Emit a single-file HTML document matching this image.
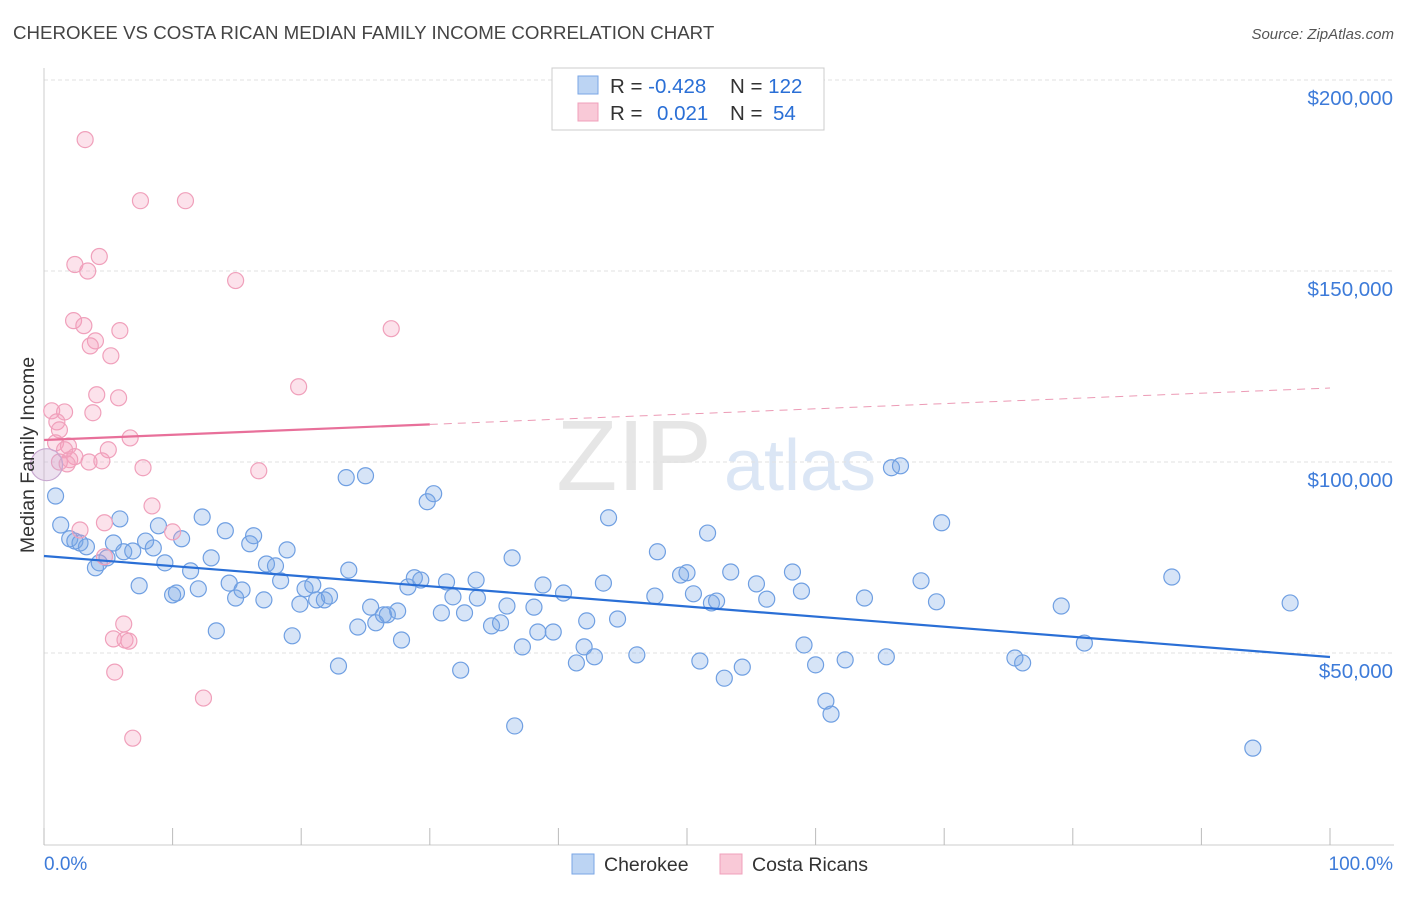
<!DOCTYPE html>
<html><head><meta charset="utf-8"><style>
body{margin:0;background:#fff;font-family:"Liberation Sans",sans-serif}
svg text{font-family:"Liberation Sans",sans-serif}
</style></head><body>
<svg id="c" width="1406" height="892">
<text x="13" y="39" font-size="18.7" fill="#444">CHEROKEE VS COSTA RICAN MEDIAN FAMILY INCOME CORRELATION CHART</text>
<text x="1394" y="39" font-size="15" fill="#555" font-style="italic" text-anchor="end">Source: ZipAtlas.com</text>
<text x="634" y="490" font-size="100" fill="#e6e6e6" font-family="Liberation Serif" text-anchor="middle">ZIP</text>
<text x="800" y="490" font-size="72" fill="#dbe6f5" text-anchor="middle">atlas</text>
<g id="grid"></g>
<g id="axes"></g>
<g id="pts"></g>
<g id="trend"></g>
<text transform="translate(34,455) rotate(-90)" font-size="19.5" fill="#333" text-anchor="middle">Median Family Income</text>
<text x="44" y="870" font-size="19" fill="#3d7bd9">0.0%</text>
<text x="1393" y="870" font-size="19" fill="#3d7bd9" text-anchor="end">100.0%</text>
<g>
<rect x="552" y="68" width="272" height="62" fill="#fff" stroke="#ccc"/>
<rect x="578" y="76" width="20" height="18" fill="#bcd4f3" stroke="#7aa6e6"/>
<rect x="578" y="103" width="20" height="18" fill="#f9c9d7" stroke="#f0a0bb"/>
<text x="610" y="93" font-size="20.5" fill="#333">R = <tspan fill="#2a6fd6">-0.428</tspan><tspan x="730">N = </tspan><tspan fill="#2a6fd6">122</tspan></text>
<text x="610" y="120" font-size="20.5" fill="#333">R = <tspan x="657" fill="#2a6fd6">0.021</tspan><tspan x="730">N = </tspan><tspan x="773" fill="#2a6fd6">54</tspan></text>
</g>
<g>
<rect x="572" y="854" width="22" height="20" fill="#bcd4f3" stroke="#7aa6e6"/>
<text x="604" y="871" font-size="19.5" fill="#333">Cherokee</text>
<rect x="720" y="854" width="22" height="20" fill="#f9c9d7" stroke="#f0a0bb"/>
<text x="752" y="871" font-size="19.5" fill="#333">Costa Ricans</text>
</g>
</svg>
<script>
const yTicks=[50000,100000,150000,200000];
const yTickLabels=["$50,000","$100,000","$150,000","$200,000"];
const cherokeeX=[0.9,1.3,2.0,2.4,2.8,3.3,4.0,4.3,4.9,5.4,5.9,6.2,6.9,7.4,7.9,8.5,8.9,9.4,10.0,10.3,10.7,11.4,12.0,12.3,13.0,13.4,14.1,14.4,14.9,15.4,16.0,16.3,17.1,17.3,18.0,18.4,18.9,19.3,19.9,20.3,20.9,21.2,21.8,22.2,22.9,23.5,23.7,24.4,25.0,25.4,25.8,26.4,26.7,27.5,27.8,28.3,28.8,29.3,29.8,30.3,30.9,31.3,31.8,32.4,32.7,33.6,33.7,34.8,35.5,36.0,36.4,36.6,37.2,38.1,38.4,38.8,39.6,40.4,41.4,42.0,42.2,42.8,43.5,43.9,44.6,46.1,47.5,47.7,49.5,50.0,50.5,51.0,51.6,51.9,52.3,52.9,53.4,54.3,55.4,56.2,58.2,58.9,59.1,60.0,60.8,61.2,62.3,63.8,65.5,65.9,66.6,68.2,69.4,69.8,75.5,76.1,79.1,80.9,87.7,94.0,96.9];
const cherokeeY=[91.1,83.5,79.9,79.3,78.8,77.8,72.3,73.6,74.9,78.8,85.1,76.5,76.7,67.6,79.3,77.5,83.3,73.6,65.2,65.7,79.9,71.5,66.8,85.6,74.9,55.8,82,68.3,64.4,66.5,78.6,80.7,63.9,73.3,72.8,68.9,77,54.5,62.8,66.8,67.8,63.9,63.9,64.9,46.6,95.9,71.7,56.8,96.4,62,57.9,60,60,61,53.4,67.3,69.7,69.1,89.6,91.7,60.5,68.6,64.7,45.5,60.5,69.1,64.4,57.1,57.9,62.3,74.9,30.9,51.6,62,55.5,67.8,55.5,65.7,47.4,51.6,58.4,49,68.3,85.4,58.9,49.5,64.9,76.5,70.4,71,65.5,47.9,81.4,63.1,63.6,43.4,71.2,46.3,68.1,64.1,71.2,66.2,52.1,46.9,37.4,34,48.2,64.4,49,98.5,99,68.9,63.4,84.1,48.7,47.4,62.3,52.6,69.9,25.1,63.1];
const costaX=[3.2,7.5,11.0,4.3,2.4,3.4,14.9,2.3,3.1,27.0,5.9,4.0,3.6,5.2,19.8,4.1,5.8,0.6,1.6,3.8,1.0,1.2,6.7,0.9,1.9,1.6,5.0,2.4,2.0,1.2,1.8,3.5,4.5,7.7,16.7,8.4,4.7,2.8,10.0,4.7,6.2,5.4,6.3,6.6,5.5,12.4,6.9];
const costaY=[184.4,168.4,168.4,153.8,151.7,150,147.5,137,135.7,134.9,134.4,131.7,130.4,127.8,119.7,117.6,116.8,113.4,113.1,112.9,110.5,108.4,106.3,105,104.2,103.2,103.2,101.4,100.6,100,99.5,100,100.3,98.5,97.7,88.5,84.1,82.2,81.7,75.2,57.6,53.7,53.4,53.1,45,38.2,27.7];
const bigX=[0.2], bigY=[99.3];
const cherokeeTrend=[75.4,48.95];
const costaTrend=[105.76,119.37];
const xTicks=[0,10,20,30,40,50,60,70,80,90,100];
const NS="http://www.w3.org/2000/svg";
const xs=p=>44+p*12.86;
const ys=v=>653-(v-50000)*191/50000;
function mk(t,a,parent){const e=document.createElementNS(NS,t);for(const k in a)e.setAttribute(k,a[k]);document.getElementById(parent).appendChild(e);return e;}
yTicks.forEach((v,i)=>{
 const l=mk('line',{x1:44,x2:1394,y1:ys(v),y2:ys(v),stroke:'#e2e2e2','stroke-dasharray':'4,3'},'grid');
 
 
 const t=mk('text',{x:1393,y:ys(v)+25,'font-size':20.5,fill:'#3d7bd9','text-anchor':'end'},'grid');
 t.textContent=yTickLabels[i];
 
 
});
const ax=mk('line',{x1:44,x2:44,y1:68,y2:845,stroke:'#ccc'},'axes');


const bx=mk('line',{x1:44,x2:1394,y1:845,y2:845,stroke:'#ccc'},'axes');


xTicks.forEach(p=>{
 const t=mk('line',{x1:xs(p),x2:xs(p),y1:828,y2:845,stroke:'#bbb'},'axes');
 
 
});
cherokeeX.forEach((p,i)=>{
 const c=mk('circle',{cx:xs(p),cy:ys(cherokeeY[i]*1000),r:8,fill:'rgba(120,165,230,0.3)',stroke:'#6f9fe2','stroke-width':1.2},'pts');
 
 
});
costaX.forEach((p,i)=>{
 const c=mk('circle',{cx:xs(p),cy:ys(costaY[i]*1000),r:8,fill:'rgba(245,160,190,0.3)',stroke:'#f0a0bb','stroke-width':1.2},'pts');
 
 
});
bigX.forEach((p,i)=>{
 const c=mk('circle',{cx:xs(p),cy:ys(bigY[i]*1000),r:16,fill:'rgba(200,170,210,0.35)',stroke:'#c8a8d0','stroke-width':1.2},'pts');
 
 
});
const t1=mk('line',{x1:xs(0),y1:ys(cherokeeTrend[0]*1000),x2:xs(100),y2:ys(cherokeeTrend[1]*1000),stroke:'#2a6fd6','stroke-width':2.2},'trend');


const cy30=costaTrend[0]+(costaTrend[1]-costaTrend[0])*0.3;
const t2=mk('line',{x1:xs(0),y1:ys(costaTrend[0]*1000),x2:xs(30),y2:ys(cy30*1000),stroke:'#e8709a','stroke-width':2.2},'trend');


const t3=mk('line',{x1:xs(30),y1:ys(cy30*1000),x2:xs(100),y2:ys(costaTrend[1]*1000),stroke:'#ec9ab5','stroke-width':1,'stroke-dasharray':'8,6'},'trend');


</script>
</body></html>
